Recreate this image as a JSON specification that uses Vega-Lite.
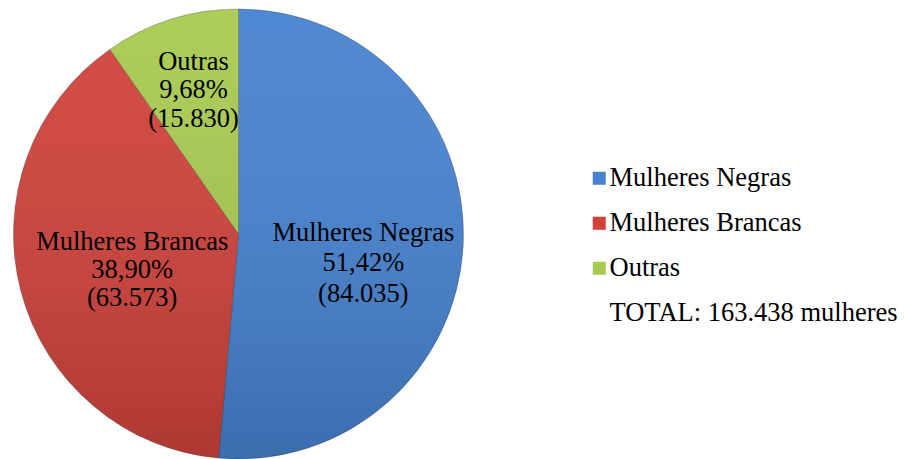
{
  "$schema": "https://vega.github.io/schema/vega-lite/v6.json",
  "width": 477,
  "height": 468,
  "padding": 0,
  "background": "white",
  "config": {"view": {"stroke": null}, "font": "Liberation Serif", "legend": {"labelFont": "Liberation Serif"}},
  "data": {
    "values": [
      {"category": "Mulheres Negras", "value": 84035, "pct": "51,42%", "count": "84.035", "order": 1},
      {"category": "Mulheres Brancas", "value": 63573, "pct": "38,90%", "count": "63.573", "order": 2},
      {"category": "Outras", "value": 15830, "pct": "9,68%", "count": "15.830", "order": 3}
    ]
  },
  "transform": [
    {"stack": "value", "groupby": [], "sort": [{"field": "order", "order": "ascending"}], "as": ["v0", "v1"]},
    {"calculate": "(datum.v0 + datum.v1) / 2", "as": "mid"},
    {"calculate": "[datum.category, datum.pct, '(' + datum.count + ')']", "as": "lines"}
  ],
  "layer": [
    {
      "mark": {"type": "arc", "radius": 225, "stroke": "#2a2a2a", "strokeOpacity": 0.3, "strokeWidth": 1},
      "encoding": {
        "theta": {"field": "v0", "type": "quantitative", "scale": {"domain": [0, 163438]}},
        "theta2": {"field": "v1"},
        "color": {
          "field": "category",
          "type": "nominal",
          "scale": {
            "domain": ["Mulheres Negras", "Mulheres Brancas", "Outras", "TOTAL: 163.438 mulheres"],
            "range": ["#4682d0", "#d0423b", "#a8ca50", "transparent"]
          },
          "legend": {
            "orient": "none",
            "legendX": 586,
            "legendY": 165,
            "title": null,
            "padding": 0,
            "symbolType": "square",
            "symbolSize": 170,
            "symbolStrokeWidth": 0,
            "labelFont": "Liberation Serif",
            "labelFontSize": 26.5,
            "labelColor": "#000000",
            "labelLimit": 400,
            "labelOffset": -3,
            "rowPadding": 18
          }
        }
      }
    },
    {
      "transform": [{"aggregate": [{"op": "count", "as": "n"}]}],
      "mark": {
        "type": "arc",
        "radius": 225,
        "theta": 0,
        "theta2": 6.2832,
        "fill": {
          "gradient": "linear",
          "x1": 0, "y1": 0, "x2": 0, "y2": 1,
          "stops": [
            {"offset": 0, "color": "rgba(255,255,255,0.05)"},
            {"offset": 1, "color": "rgba(0,0,0,0.16)"}
          ]
        }
      },
      "encoding": {}
    },
    {
      "transform": [{"filter": "datum.category === 'Mulheres Negras'"}],
      "mark": {"type": "text", "radius": 125, "dy": -7, "font": "Liberation Serif", "fontSize": 26.5, "lineHeight": 30.5, "color": "#000000", "align": "center", "baseline": "middle"},
      "encoding": {
        "theta": {"field": "mid", "type": "quantitative", "scale": {"domain": [0, 163438]}},
        "text": {"field": "lines"}
      }
    },
    {
      "transform": [{"filter": "datum.category === 'Mulheres Brancas'"}],
      "mark": {"type": "text", "radius": 110, "dy": -20, "font": "Liberation Serif", "fontSize": 26.5, "lineHeight": 28, "color": "#000000", "align": "center", "baseline": "middle"},
      "encoding": {
        "theta": {"field": "mid", "type": "quantitative", "scale": {"domain": [0, 163438]}},
        "text": {"field": "lines"}
      }
    },
    {
      "transform": [{"filter": "datum.category === 'Outras'"}],
      "mark": {"type": "text", "radius": 150, "dy": -29, "font": "Liberation Serif", "fontSize": 26.5, "lineHeight": 28.5, "color": "#000000", "align": "center", "baseline": "middle"},
      "encoding": {
        "theta": {"field": "mid", "type": "quantitative", "scale": {"domain": [0, 163438]}},
        "text": {"field": "lines"}
      }
    }
  ]
}
